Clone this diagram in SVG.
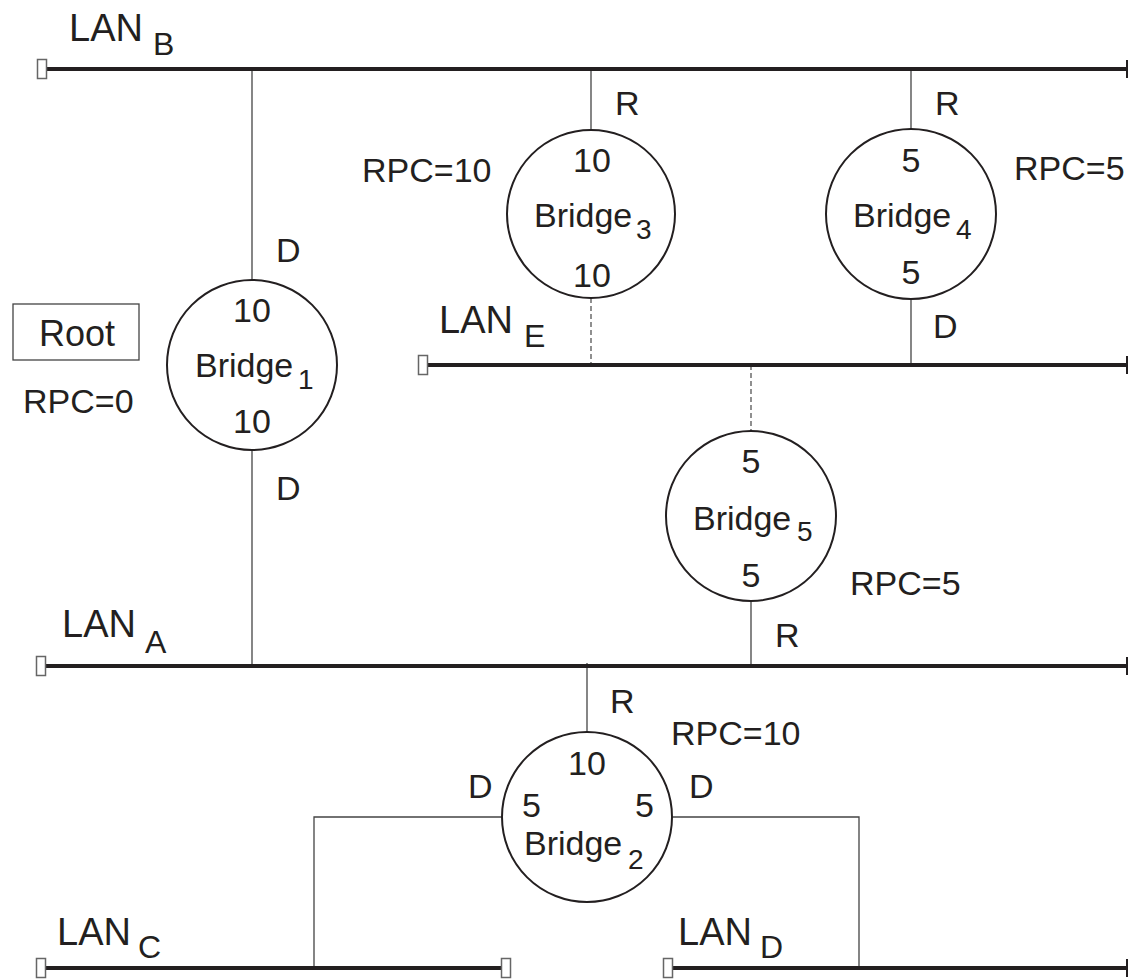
<svg xmlns="http://www.w3.org/2000/svg" width="1128" height="979" viewBox="0 0 1128 979">
<style>
text{font-family:"Liberation Sans",Arial,sans-serif;fill:#231f20;font-size:34px}
.lan{font-size:38px}
.lsub{font-size:32px}
.sub{font-size:28px}
.mid{text-anchor:middle}
.bus{stroke:#231f20;stroke-width:4;fill:none}
.cap{fill:#fff;stroke:#666;stroke-width:1.5}
.tick{stroke:#231f20;stroke-width:2}
.wire{stroke:#444;stroke-width:1.3;fill:none}
.dash{stroke:#555;stroke-width:1.3;stroke-dasharray:5 3;fill:none}
.br{fill:#fff;stroke:#231f20;stroke-width:2}
</style>
<rect width="1128" height="979" fill="#fff"/>
<g id="connectors">
<line class="wire" x1="252" y1="69" x2="252" y2="280"/>
<line class="wire" x1="252" y1="450" x2="252" y2="666"/>
<line class="wire" x1="591" y1="69" x2="591" y2="130"/>
<line class="dash" x1="591" y1="298" x2="591" y2="365"/>
<line class="wire" x1="911" y1="69" x2="911" y2="129"/>
<line class="wire" x1="911" y1="299" x2="911" y2="365"/>
<line class="dash" x1="751" y1="365" x2="751" y2="431"/>
<line class="wire" x1="751" y1="601" x2="751" y2="666"/>
<line class="wire" x1="587" y1="663" x2="587" y2="732"/>
<polyline class="wire" points="502,817 314,817 314,968"/>
<polyline class="wire" points="672,817 859,817 859,968"/>
</g>
<g id="lan-b">
<line class="bus" x1="46" y1="69" x2="1127" y2="69"/>
<rect class="cap" x="37.5" y="59.5" width="9" height="19"/>
<line class="tick" x1="1127" y1="60" x2="1127" y2="78"/>
<text class="lan" x="69" y="41">LAN</text><text class="lsub" x="153" y="55">B</text>
</g>
<g id="lan-e">
<line class="bus" x1="427" y1="365" x2="1127" y2="365"/>
<rect class="cap" x="418.5" y="355.5" width="9" height="19"/>
<line class="tick" x1="1127" y1="356" x2="1127" y2="374"/>
<text class="lan" x="439" y="333">LAN</text><text class="lsub" x="524" y="347">E</text>
</g>
<g id="lan-a">
<line class="bus" x1="45" y1="666" x2="1127" y2="666"/>
<rect class="cap" x="36.5" y="656.5" width="9" height="19"/>
<line class="tick" x1="1127" y1="657" x2="1127" y2="675"/>
<text class="lan" x="62" y="637">LAN</text><text class="lsub" x="145" y="653">A</text>
</g>
<g id="lan-c">
<line class="bus" x1="45" y1="968" x2="501" y2="968"/>
<rect class="cap" x="36.5" y="958.5" width="9" height="19"/>
<rect class="cap" x="501.5" y="958.5" width="9" height="19"/>
<text class="lan" x="57" y="945">LAN</text><text class="lsub" x="138" y="958">C</text>
</g>
<g id="lan-d">
<line class="bus" x1="672" y1="968" x2="1127" y2="968"/>
<rect class="cap" x="663.5" y="958.5" width="9" height="19"/>
<line class="tick" x1="1127" y1="959" x2="1127" y2="977"/>
<text class="lan" x="678" y="945">LAN</text><text class="lsub" x="760" y="958">D</text>
</g>
<g id="root">
<rect x="13" y="304" width="126" height="56" fill="#fff" stroke="#444" stroke-width="1.3"/>
<text x="39" y="346" style="font-size:36px">Root</text>
<text x="23" y="413">RPC=0</text>
</g>
<g id="bridge1">
<circle class="br" cx="252" cy="365" r="85"/>
<text x="276" y="262">D</text>
<text class="mid" x="252" y="322">10</text>
<text x="195" y="377">Bridge</text><text class="sub" x="298" y="389">1</text>
<text class="mid" x="252" y="433">10</text>
<text x="276" y="500">D</text>
</g>
<g id="bridge3">
<circle class="br" cx="591" cy="214" r="84"/>
<text x="615" y="115">R</text>
<text x="362" y="182">RPC=10</text>
<text class="mid" x="592" y="172">10</text>
<text x="534" y="227">Bridge</text><text class="sub" x="636" y="239">3</text>
<text class="mid" x="592" y="287">10</text>
</g>
<g id="bridge4">
<circle class="br" cx="911" cy="214" r="85"/>
<text x="935" y="115">R</text>
<text class="mid" x="911" y="172">5</text>
<text x="853" y="227">Bridge</text><text class="sub" x="956" y="239">4</text>
<text class="mid" x="911" y="284">5</text>
<text x="933" y="338">D</text>
<text x="1014" y="180">RPC=5</text>
</g>
<g id="bridge5">
<circle class="br" cx="751" cy="516" r="85"/>
<text class="mid" x="751" y="473">5</text>
<text x="693" y="530">Bridge</text><text class="sub" x="797" y="541">5</text>
<text class="mid" x="751" y="587">5</text>
<text x="850" y="595">RPC=5</text>
<text x="775" y="647">R</text>
</g>
<g id="bridge2">
<circle class="br" cx="587" cy="817" r="85"/>
<text x="610" y="713">R</text>
<text x="671" y="745">RPC=10</text>
<text class="mid" x="587" y="775">10</text>
<text x="468" y="798">D</text>
<text x="522" y="817">5</text>
<text x="635" y="817">5</text>
<text x="689" y="798">D</text>
<text x="524" y="855">Bridge</text><text class="sub" x="628" y="869">2</text>
</g>
</svg>
